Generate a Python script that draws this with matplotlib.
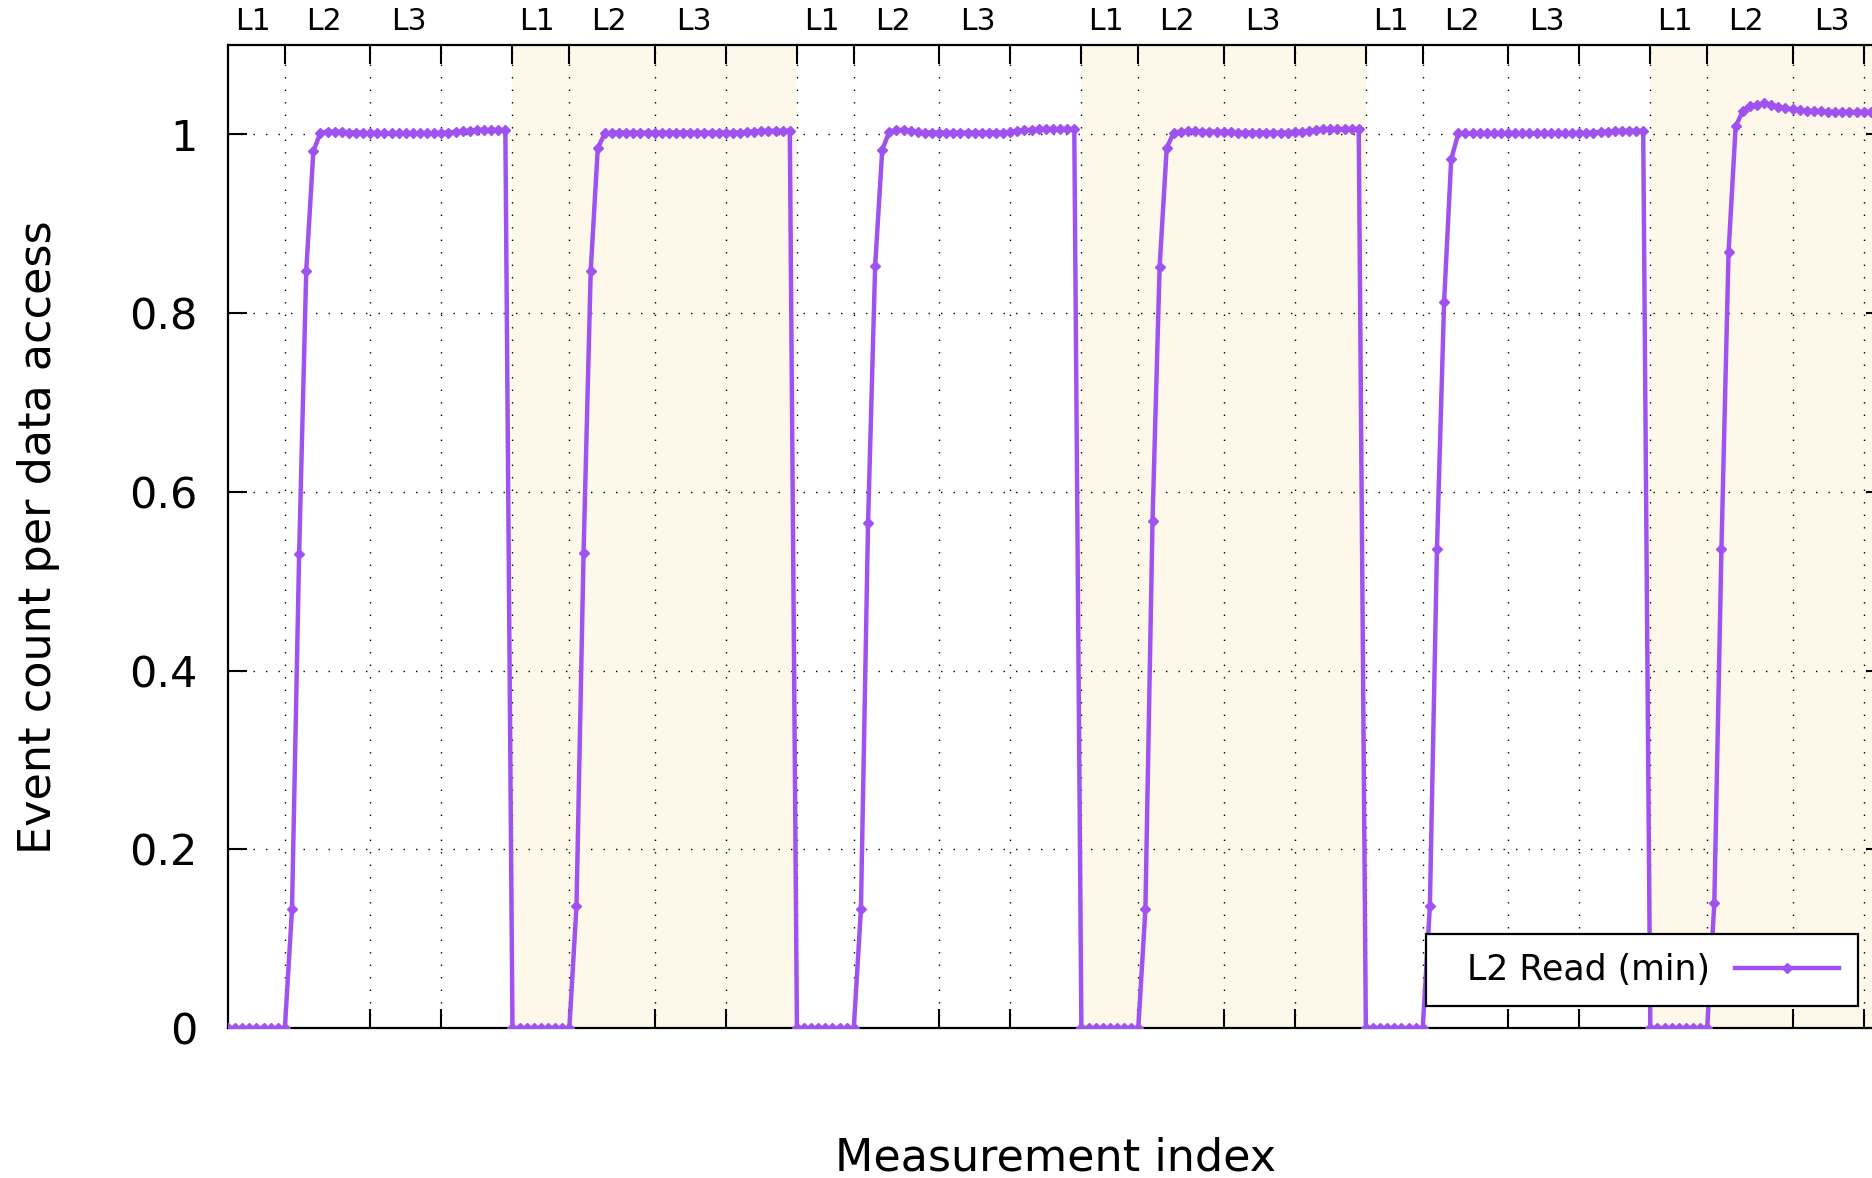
import matplotlib
matplotlib.use("Agg")
import matplotlib.pyplot as plt
import matplotlib.transforms as mtransforms
import numpy as np

# Data: L2 read events (min) per data access, one block per sweep
n_zero = 9  # points at 0 before the rise, per block
rise = [
    [0.133, 0.530, 0.847, 0.981],
    [0.136, 0.532, 0.847, 0.985],
    [0.133, 0.565, 0.853, 0.983],
    [0.133, 0.567, 0.852, 0.985],
    [0.136, 0.536, 0.812, 0.972],
    [0.140, 0.536, 0.868, 1.009],
]
plateau = [
    [1.002, 1.003, 1.003, 1.003, 1.002, 1.002, 1.002, 1.001, 1.001, 1.001, 1.001, 1.001, 1.001, 1.001,
     1.001, 1.001, 1.001, 1.002, 1.002, 1.003, 1.004, 1.004, 1.005, 1.005, 1.005, 1.005, 1.005],
    [1.001, 1.002, 1.002, 1.002, 1.002, 1.002, 1.002, 1.002, 1.002, 1.002, 1.002, 1.002, 1.002, 1.002,
     1.002, 1.002, 1.002, 1.002, 1.002, 1.002, 1.003, 1.003, 1.004, 1.004, 1.004, 1.004, 1.004],
    [1.003, 1.005, 1.005, 1.004, 1.003, 1.002, 1.002, 1.002, 1.002, 1.002, 1.002, 1.002, 1.002, 1.002,
     1.002, 1.002, 1.002, 1.003, 1.004, 1.005, 1.005, 1.006, 1.006, 1.006, 1.006, 1.006, 1.006],
    [1.002, 1.003, 1.004, 1.004, 1.003, 1.003, 1.003, 1.003, 1.003, 1.002, 1.002, 1.002, 1.002, 1.002,
     1.002, 1.002, 1.002, 1.003, 1.003, 1.004, 1.005, 1.006, 1.006, 1.006, 1.006, 1.006, 1.006],
    [1.001, 1.001, 1.001, 1.001, 1.001, 1.001, 1.001, 1.001, 1.001, 1.001, 1.001, 1.001, 1.001, 1.001,
     1.001, 1.001, 1.001, 1.001, 1.002, 1.002, 1.003, 1.003, 1.004, 1.004, 1.004, 1.004, 1.004],
    [1.026, 1.032, 1.033, 1.035, 1.033, 1.031, 1.029, 1.028, 1.027, 1.0265, 1.026, 1.026, 1.0255,
     1.0255, 1.025, 1.025, 1.025, 1.025, 1.025, 1.025, 1.025],
]
block_len = 40
level_edges = [8, 20, 30, 40]          # L1|L2|L3 tick positions inside a block
level_names = ["L1", "L2", "L3"]
level_label_pos = [3.5, 13.5, 25.5]
x_max = 233

values = []
for r, p in zip(rise, plateau):
    values += [0.0] * n_zero + r + p
values = np.array(values)
idx = np.arange(len(values))

n_blocks = len(rise)
xticks = [b * block_len + e for b in range(n_blocks) for e in level_edges]
xticks = [t for t in xticks if t <= x_max]

# Plotting
W, H = 1872, 1178
fig = plt.figure(figsize=(W / 100, H / 100), dpi=100)
ax = fig.add_axes([228 / W, (H - 1028) / H, (1885 - 228) / W, (1028 - 45) / H])

for b in range(1, n_blocks, 2):
    ax.axvspan(b * block_len, (b + 1) * block_len, color="#fdf8ea", lw=0, zorder=0)

ax.plot(idx, values, color="#a052f0", lw=3.2, marker="D", ms=5.5,
        label="  L2 Read (min)", zorder=3)

ax.set_xticks(xticks)
ax.set_xticklabels([])
ax.set_xlim(0, x_max)
ax.set_ylim(0, 1.1)
ax.set_yticks([0, 0.2, 0.4, 0.6, 0.8, 1.0])
ax.set_yticklabels(["0", "0.2", "0.4", "0.6", "0.8", "1"])
ax.tick_params(axis="both", direction="in", length=14, width=1.5,
               top=True, right=True, labelsize=31, pad=22)
ax.grid(True, color="black", linestyle=(0, (1, 8)), lw=1.0)
for s in ax.spines.values():
    s.set_linewidth(1.6)

trans = mtransforms.blended_transform_factory(ax.transData, fig.transFigure)
for b in range(n_blocks):
    for name, pos in zip(level_names, level_label_pos):
        ax.text(b * block_len + pos, (H - 22) / H, name, transform=trans,
                ha="center", va="center", fontsize=21.5, clip_on=False)

fig.text(39 / W, (H - 537) / H, "Event count per data access", rotation=90,
         ha="center", va="center", fontsize=32)
fig.text(1056 / W, (H - 1158) / H, "Measurement index", ha="center",
         va="center", fontsize=32)

leg = ax.legend(loc="lower right", bbox_to_anchor=(0.9837, 0.0224), borderaxespad=0,
                fontsize=25, markerfirst=False, numpoints=1, handlelength=3.0,
                fancybox=False, framealpha=1, edgecolor="black", borderpad=0.55,
                handletextpad=0.7)
leg.get_frame().set_linewidth(1.6)

plt.savefig("out.png", dpi=100)
